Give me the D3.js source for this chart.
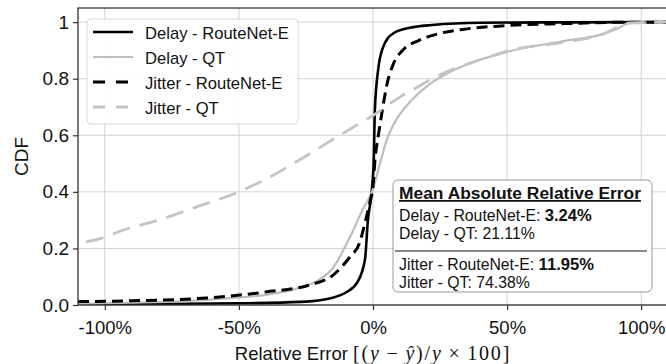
<!DOCTYPE html>
<html>
<head>
<meta charset="utf-8">
<script src="https://cdn.jsdelivr.net/npm/d3@7"></script>
<style>
  body { margin: 0; background: #fff; }
  text { font-family: "Liberation Sans", Arial, sans-serif; fill: #111; }
</style>
</head>
<body>
<div id="chart"></div>
<script>
'use strict';

// CDF of relative error as [x %, CDF]
const seriesNames = ['Delay - RouteNet-E', 'Delay - QT', 'Jitter - RouteNet-E', 'Jitter - QT'];

const delayRouteNet = [[-110, 0.002], [-80, 0.004], [-50, 0.006], [-27, 0.011], [-15, 0.026],
  [-10, 0.045], [-6, 0.078], [-3, 0.16], [-1.9, 0.3], [-0.4, 0.41], [0.3, 0.52], [0.7, 0.69],
  [1.9, 0.83], [3.7, 0.91], [7.5, 0.96], [13.8, 0.98], [22, 0.99], [40, 0.998], [110, 1]];

const delayQT = [[-110, 0.004], [-90, 0.008], [-70, 0.014], [-52, 0.025], [-40, 0.036],
  [-27, 0.062], [-20, 0.09], [-15, 0.13], [-8.6, 0.24], [-3.7, 0.34], [0, 0.41], [2.6, 0.5],
  [5, 0.58], [9, 0.66], [14, 0.72], [21, 0.78], [28, 0.82], [35, 0.85], [50, 0.895],
  [71, 0.933], [85, 0.956], [90, 0.972], [96, 0.997], [110, 1]];

const jitterRouteNet = [[-110, 0.012], [-90, 0.015], [-62, 0.025], [-40, 0.046], [-24, 0.07],
  [-15, 0.105], [-8.6, 0.17], [-5, 0.22], [-3, 0.29], [-1, 0.37], [0, 0.42], [0.8, 0.52],
  [2, 0.6], [3.5, 0.69], [5.2, 0.78], [7.5, 0.85], [11, 0.9], [17, 0.935], [24, 0.958],
  [34, 0.975], [50, 0.988], [72, 0.995], [95, 1], [110, 1]];

const jitterQT = [[-107, 0.223], [-100, 0.24], [-94, 0.262], [-80, 0.3], [-66, 0.346],
  [-50, 0.4], [-40, 0.445], [-27, 0.515], [-15, 0.585], [-8, 0.625], [0, 0.67], [10, 0.735],
  [17.5, 0.775], [22, 0.8], [29, 0.83], [41, 0.87], [51, 0.9], [72, 0.93], [85, 0.955],
  [96, 0.997], [110, 1]];

const xTicks = [-100, -50, 0, 50, 100];
const yTicks = [0, 0.2, 0.4, 0.6, 0.8, 1];
const yTickLabels = ['0.0', '0.2', '0.4', '0.6', '0.8', '1'];

const maeTitle = 'Mean Absolute Relative Error';
const maeValues = ['3.24%', '21.11%', '11.95%', '74.38%'];

// styles for each series, same order as seriesNames
const styles = [
  { color: '#000', width: 2.6, dash: null, legendDash: null },
  { color: '#bdbdbd', width: 2.2, dash: null, legendDash: null },
  { color: '#000', width: 3, dash: '11,6', legendDash: '12,11' },
  { color: '#c4c4c4', width: 2.8, dash: '18,10', legendDash: '12,11' }
];

const width = 666;
const height = 364;
const margin = { top: 8, right: -2, bottom: 59, left: 78 };

const svg = d3.select('#chart')
  .append('svg')
  .attr('width', width)
  .attr('height', height);

const x = d3.scaleLinear()
  .domain([-110, 110])
  .range([margin.left, width - margin.right]);

const y = d3.scaleLinear()
  .domain([0, 1.05])
  .range([height - margin.bottom, margin.top]);

svg.append('clipPath')
  .attr('id', 'plot')
  .append('rect')
  .attr('x', margin.left)
  .attr('y', margin.top)
  .attr('width', width - margin.right - margin.left)
  .attr('height', height - margin.bottom - margin.top);

// grid
const grid = svg.append('g').attr('stroke', '#d2d2d2').attr('stroke-width', 1);
grid.selectAll('.gx')
  .data(xTicks)
  .enter()
  .append('line')
  .attr('x1', d => x(d)).attr('x2', d => x(d))
  .attr('y1', margin.top).attr('y2', height - margin.bottom);
grid.selectAll('.gy')
  .data(yTicks)
  .enter()
  .append('line')
  .attr('x1', margin.left).attr('x2', width - margin.right)
  .attr('y1', d => y(d)).attr('y2', d => y(d));

// curves
const line = d3.line()
  .x(d => x(d[0]))
  .y(d => y(d[1]))
  .curve(d3.curveMonotoneX);

const allSeries = [delayRouteNet, delayQT, jitterRouteNet, jitterQT];

svg.append('g')
  .attr('clip-path', 'url(#plot)')
  .selectAll('path')
  .data(allSeries)
  .enter()
  .append('path')
  .attr('d', line)
  .attr('fill', 'none')
  .attr('stroke', (d, i) => styles[i].color)
  .attr('stroke-width', (d, i) => styles[i].width)
  .attr('stroke-dasharray', (d, i) => styles[i].dash);

// frame
svg.append('rect')
  .attr('x', margin.left)
  .attr('y', margin.top)
  .attr('width', width - margin.right - margin.left)
  .attr('height', height - margin.bottom - margin.top)
  .attr('fill', 'none')
  .attr('stroke', '#333')
  .attr('stroke-width', 1.3);

// axes
const xAxis = d3.axisBottom(x)
  .tickValues(xTicks)
  .tickFormat(d => d + '%')
  .tickSize(5)
  .tickPadding(11);
const gx = svg.append('g')
  .attr('transform', `translate(0, ${height - margin.bottom})`)
  .call(xAxis);
gx.select('.domain').remove();
gx.selectAll('line').attr('stroke', '#333').attr('stroke-width', 1.2);
gx.selectAll('text').attr('font-size', 18.5).attr('fill', '#111');

const yAxis = d3.axisLeft(y)
  .tickValues(yTicks)
  .tickFormat((d, i) => yTickLabels[i])
  .tickSize(5)
  .tickPadding(4);
const gy = svg.append('g')
  .attr('transform', `translate(${margin.left}, 0)`)
  .call(yAxis);
gy.select('.domain').remove();
gy.selectAll('line').attr('stroke', '#333').attr('stroke-width', 1.2);
gy.selectAll('text').attr('font-size', 19).attr('fill', '#111');

// axis labels
const xLabel = svg.append('text')
  .attr('x', (margin.left + width - margin.right) / 2)
  .attr('y', 359.5)
  .attr('text-anchor', 'middle')
  .attr('font-size', 18.5);
xLabel.append('tspan').text('Relative Error ');
const serif = '"Liberation Serif", "DejaVu Serif", serif';
const math = [['[(', 'normal'], ['y', 'italic'], ['\u2009\u2212\u2009', 'normal'], ['\u0177', 'italic'],
  [')/', 'normal'], ['y', 'italic'], ['\u2009\u00d7\u2009100]', 'normal']];
math.forEach(m => {
  xLabel.append('tspan')
    .attr('font-family', serif)
    .attr('font-size', 20)
    .attr('letter-spacing', 1.8)
    .attr('font-style', m[1])
    .text(m[0]);
});

svg.append('text')
  .attr('transform', `translate(28, ${(margin.top + height - margin.bottom) / 2}) rotate(-90)`)
  .attr('text-anchor', 'middle')
  .attr('font-size', 19)
  .text('CDF');

// legend
const legend = svg.append('g');
legend.append('rect')
  .attr('x', 87).attr('y', 19)
  .attr('width', 211).attr('height', 105)
  .attr('rx', 4)
  .attr('fill', '#fff').attr('fill-opacity', 0.9)
  .attr('stroke', '#d8d8d8');

const item = legend.selectAll('.item')
  .data(seriesNames)
  .enter()
  .append('g')
  .attr('transform', (d, i) => `translate(0, ${39 + i * 25})`);
item.append('line')
  .attr('x1', 93).attr('x2', 133)
  .attr('y1', -7).attr('y2', -7)
  .attr('stroke', (d, i) => styles[i].color)
  .attr('stroke-width', (d, i) => styles[i].width)
  .attr('stroke-dasharray', (d, i) => styles[i].legendDash);
item.append('text')
  .attr('x', 145)
  .attr('font-size', 16.6)
  .text(d => d);

// mean absolute relative error box
const box = svg.append('g');
box.append('rect')
  .attr('x', 393).attr('y', 180)
  .attr('width', 259).attr('height', 112)
  .attr('rx', 5)
  .attr('fill', '#fff')
  .attr('stroke', '#999');

box.append('text')
  .attr('x', 399).attr('y', 199)
  .attr('font-size', 17.4)
  .attr('font-weight', 'bold')
  .attr('text-decoration', 'underline')
  .text(maeTitle);

const rowY = [220.5, 238.5, 270, 288];
seriesNames.forEach((name, i) => {
  const t = box.append('text')
    .attr('x', 399).attr('y', rowY[i])
    .attr('font-size', 15.8);
  t.append('tspan').text(name + ': ');
  t.append('tspan')
    .attr('font-weight', i % 2 === 0 ? 'bold' : 'normal')
    .attr('font-size', i % 2 === 0 ? 16.6 : 15.8)
    .text(maeValues[i]);
});

box.append('line')
  .attr('x1', 395).attr('x2', 647)
  .attr('y1', 251).attr('y2', 251)
  .attr('stroke', '#111')
  .attr('stroke-width', 1.2);
</script>
</body>
</html>
